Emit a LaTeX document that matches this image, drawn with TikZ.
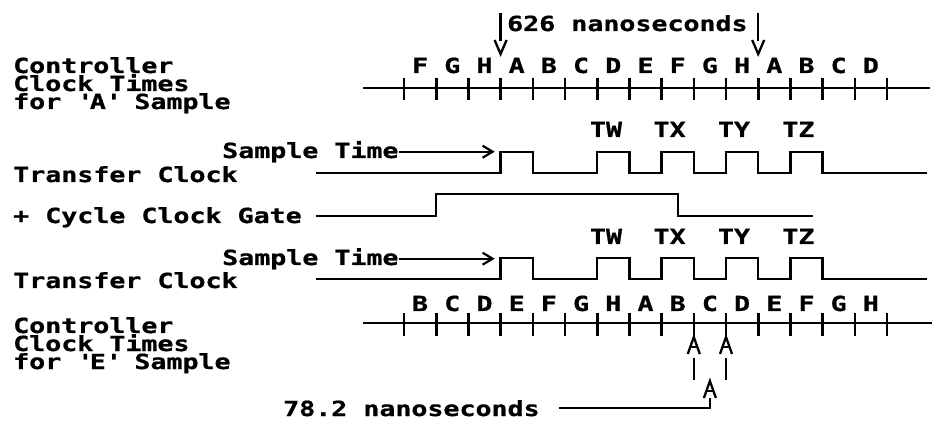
\documentclass[tikz,border=0pt]{standalone}
\usepackage{fontspec}
\newfontfamily\ibm[FakeStretch=1.28,FakeBold=0.8]{DejaVu Sans Mono}
\usetikzlibrary{arrows.meta}
\begin{document}
\begin{tikzpicture}[x=1pt,y=-1pt,
  txt/.style={font=\ibm\bfseries\fontsize{20.8}{20.8}\selectfont, inner sep=0pt, anchor=base west},
  blk/.style={font=\ibm\bfseries\fontsize{20.8}{18}\selectfont, inner sep=0pt, anchor=base west, align=left},
  lbl/.style={font=\ibm\bfseries\fontsize{20.8}{20.8}\selectfont, inner sep=0pt, anchor=base},
  sig/.style={line width=2.3pt, line join=miter},
  tickln/.style={line width=2.6pt},
  barb/.style={line width=2pt, -{Straight Barb[length=10pt,width=12pt,line width=2.2pt]}}]
\useasboundingbox (0,0) rectangle (935,422);

% ---------- top clock ('A' sample) ----------
\node[blk] (ca) at (13,109) {Controller\\Clock Times\\for \textquotesingle A\textquotesingle{} Sample};
\coordinate (tla) at (363,88);
\coordinate (tlb) at (930,88);
\draw[sig] (tla) -- (tlb);
\foreach \i in {0,...,15} {
  \coordinate (tt\i) at ({404+32.2*\i},78);
  \draw[tickln] (tt\i) -- ++(0,22);
}
\foreach \l [count=\i from 0] in {F,G,H,A,B,C,D,E,F,G,H,A,B,C,D}
  \node[lbl] (tlab\i) at ({420.1+32.2*\i},73) {\l};

% 626 ns markers
\node[txt] (ns626) at (507,31) {626 nanoseconds};
\coordinate (m1) at (500.6,13);
\coordinate (m2) at (758.2,13);
\draw[sig] (m1) -- ++(0,28);
\draw[sig] (494.6,40) -- (500.6,54) -- (506.6,40);
\draw[sig] (m2) -- ++(0,28);
\draw[sig] (752.2,40) -- (758.2,54) -- (764.2,40);

% ---------- transfer clock row 1 ----------
\foreach \t/\x in {TW/606,TX/669.6,TY/734,TZ/798.4}
  \node[lbl] (r1\t) at (\x,137) {\t};
\node[txt] (st1) at (222,158) {Sample Time};
\draw[barb] (st1.east) -- ++(96,0) coordinate (st1e);
\node[txt] (tc1) at (13,182) {Transfer Clock};
\draw[sig] (316,173) -- (500.6,173) -- (500.6,152) -- (532.8,152) -- (532.8,173)
  -- (597.2,173) -- (597.2,152) -- (629.4,152) -- (629.4,173)
  -- (661.6,173) -- (661.6,152) -- (693.8,152) -- (693.8,173)
  -- (726,173) -- (726,152) -- (758.2,152) -- (758.2,173)
  -- (790.4,173) -- (790.4,152) -- (822.6,152) -- (822.6,173) -- (927,173);

% ---------- cycle clock gate ----------
\node[txt] (gate) at (13,223) {+ Cycle Clock Gate};
\draw[sig] (316,216) -- (436.2,216) -- (436.2,194) -- (677.7,194) -- (677.7,216) -- (813,216);

% ---------- transfer clock row 2 ----------
\foreach \t/\x in {TW/606,TX/669.6,TY/734,TZ/798.4}
  \node[lbl] (r2\t) at (\x,244) {\t};
\node[txt] (st2) at (222,265) {Sample Time};
\draw[barb] (st2.east) -- ++(96,0) coordinate (st2e);
\node[txt] (tc2) at (13,288) {Transfer Clock};
\draw[sig] (316,279) -- (500.6,279) -- (500.6,258) -- (532.8,258) -- (532.8,279)
  -- (597.2,279) -- (597.2,258) -- (629.4,258) -- (629.4,279)
  -- (661.6,279) -- (661.6,258) -- (693.8,258) -- (693.8,279)
  -- (726,279) -- (726,258) -- (758.2,258) -- (758.2,279)
  -- (790.4,279) -- (790.4,258) -- (822.6,258) -- (822.6,279) -- (927,279);

% ---------- bottom clock ('E' sample) ----------
\node[blk] (ce) at (13,369) {Controller\\Clock Times\\for \textquotesingle E\textquotesingle{} Sample};
\coordinate (bla) at (363,323);
\coordinate (blb) at (932,323);
\draw[sig] (bla) -- (blb);
\foreach \i in {0,...,15} {
  \coordinate (bt\i) at ({404+32.2*\i},313);
  \draw[tickln] (bt\i) -- ++(0,23);
}
\foreach \l [count=\i from 0] in {B,C,D,E,F,G,H,A,B,C,D,E,F,G,H}
  \node[lbl] (blab\i) at ({420.1+32.2*\i},311) {\l};

% 78.2 ns markers
\foreach \x [count=\k] in {693.8,726} {
  \draw[sig] (\x-6,354) -- (\x,337) -- (\x+6,354);
  \draw[sig] (\x-3.5,347) -- (\x+3.5,347);
  \draw[sig] (\x,358) -- (\x,380);
}
\draw[sig] (703.9,398) -- (709.9,381) -- (715.9,398);
\draw[sig] (706.4,391) -- (713.4,391);
\node[txt] (ns78) at (283,416) {78.2 nanoseconds};
\coordinate (pa) at (709.9,398);
\draw[sig] (pa) -- (709.9,408) -- ([xshift=19pt]ns78.east |- 0,408);
\end{tikzpicture}
\end{document}
